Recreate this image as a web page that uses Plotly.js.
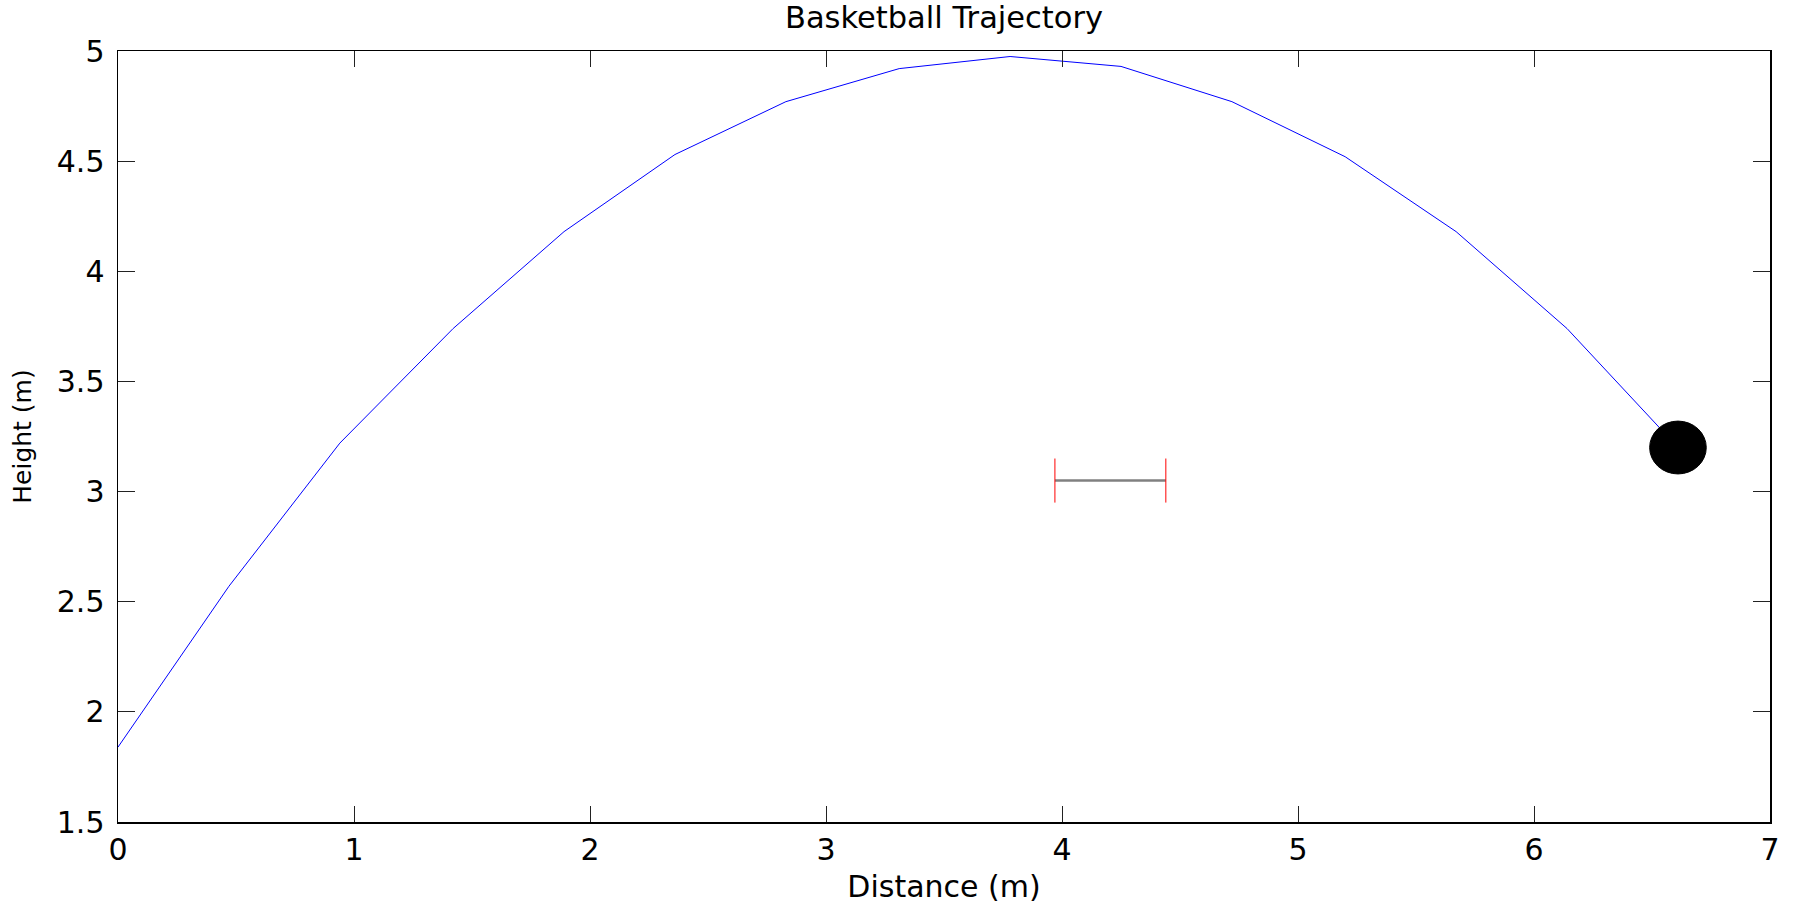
<!DOCTYPE html>
<html>
<head>
<meta charset="utf-8">
<script src="https://cdn.plot.ly/plotly-3.0.1.min.js"></script>
<style>html,body{margin:0;padding:0;background:#fff;}#chart{width:1806px;height:908px;}</style>
</head>
<body>
<div id="chart"></div>
<script>
// Trajectory
const distance = [0, 0.47, 0.94, 1.42, 1.89, 2.36, 2.83, 3.31, 3.78, 4.25, 4.72, 5.20, 5.67, 6.14, 6.61];
const height   = [1.84, 2.57, 3.22, 3.74, 4.18, 4.53, 4.77, 4.92, 4.975, 4.93, 4.77, 4.52, 4.18, 3.74, 3.20];
// Hoop (rim) and its end markers
const rimX = [3.97, 4.44];
const rimY = [3.05, 3.05];
const rimEndY = [2.95, 3.15];
// Ball
const ballX = 6.61;
const ballY = 3.20;
const ballRadius = 0.12;
// Ticks
const xTicks = [0, 1, 2, 3, 4, 5, 6, 7];
const yTicks = [1.5, 2, 2.5, 3, 3.5, 4, 4.5, 5];
const yTickLabels = ['1.5', '2', '2.5', '3', '3.5', '4', '4.5', '5'];

const FONT = 'DejaVu Sans, Arial, sans-serif';

const traces = [
  {x: distance, y: height, type: 'scatter', mode: 'lines',
   line: {color: '#0000ff', width: 1}, hoverinfo: 'skip', showlegend: false},
  {x: rimX, y: rimY, type: 'scatter', mode: 'lines',
   line: {color: '#808080', width: 2.5}, showlegend: false},
  {x: [rimX[0], rimX[0]], y: rimEndY, type: 'scatter', mode: 'lines',
   line: {color: '#ff0000', width: 1}, showlegend: false},
  {x: [rimX[1], rimX[1]], y: rimEndY, type: 'scatter', mode: 'lines',
   line: {color: '#ff0000', width: 1}, showlegend: false}
];

const layout = {
  width: 1806, height: 908,
  margin: {l: 118, r: 36, t: 51, b: 86},
  paper_bgcolor: '#ffffff', plot_bgcolor: '#ffffff',
  font: {family: FONT, color: '#000000', size: 30},
  title: {text: 'Basketball Trajectory', font: {family: FONT, size: 30.5, color: '#000'},
          x: 0.5, xref: 'paper', xanchor: 'center', y: 1 - 17/908, yref: 'container', yanchor: 'middle'},
  xaxis: {
    range: [0, 7], tickvals: xTicks, ticktext: xTicks.map(String),
    showgrid: false, zeroline: false,
    showline: true, linecolor: '#000', linewidth: 1.5, mirror: 'ticks',
    ticks: 'inside', ticklen: 16, tickwidth: 1, tickcolor: '#222',
    ticklabelstandoff: 0,
    tickfont: {family: FONT, size: 30, color: '#000'},
    title: {text: 'Distance (m)', font: {family: FONT, size: 30, color: '#000'}, standoff: 10},
    automargin: false, fixedrange: true
  },
  yaxis: {
    range: [1.5, 5], tickvals: yTicks, ticktext: yTickLabels,
    showgrid: false, zeroline: false,
    showline: true, linecolor: '#000', linewidth: 1.5, mirror: 'ticks',
    ticks: 'inside', ticklen: 17, tickwidth: 1, tickcolor: '#222',
    ticklabelstandoff: 6,
    tickfont: {family: FONT, size: 30, color: '#000'},
    title: {text: 'Height (m)', font: {family: FONT, size: 25, color: '#000'}, standoff: 18},
    automargin: false, fixedrange: true
  },
  shapes: [
    {type: 'circle', xref: 'x', yref: 'y',
     x0: ballX - ballRadius, x1: ballX + ballRadius,
     y0: ballY - ballRadius, y1: ballY + ballRadius,
     fillcolor: '#000000', line: {color: '#000000', width: 1}, layer: 'above'}
  ],
  showlegend: false
};

Plotly.newPlot('chart', traces, layout, {displayModeBar: false, staticPlot: true});
</script>
</body>
</html>
